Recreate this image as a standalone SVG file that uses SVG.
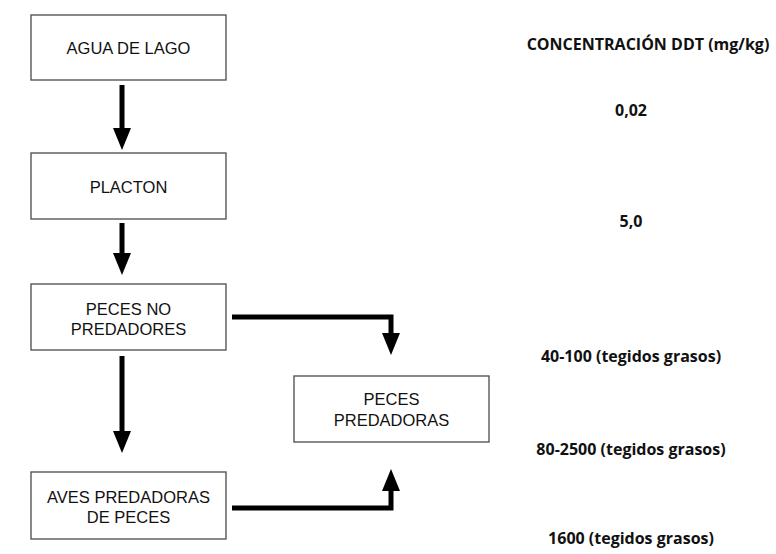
<svg xmlns="http://www.w3.org/2000/svg" width="776" height="554" viewBox="0 0 776 554">
  <style>
    .box { fill: #ffffff; stroke: #4a4a4a; stroke-width: 1.3; }
    .lbl { font-family: "Liberation Sans", Arial, sans-serif; font-size: 16.5px; fill: #111; text-anchor: middle; }
    .val { font-family: "Open Sans", "Liberation Sans", sans-serif; font-size: 16px; font-weight: bold; fill: #111; text-anchor: middle; }
    .conn { fill: none; stroke: #000; stroke-width: 5; stroke-linejoin: miter; stroke-linecap: butt; }
  </style>
  <defs>
    <marker id="ah" viewBox="0 0 22 18" refX="0" refY="9" markerWidth="22" markerHeight="18" markerUnits="userSpaceOnUse" orient="auto">
      <path d="M0,0 L22,9 L0,18 Z" fill="#000"/>
    </marker>
  </defs>
  <rect width="776" height="554" fill="#ffffff"/>

  <g id="node-agua">
    <rect class="box" x="31" y="15" width="195" height="65"/>
    <text class="lbl" x="128.5" y="54">AGUA DE LAGO</text>
  </g>
  <g id="node-placton">
    <rect class="box" x="31" y="153" width="195" height="66"/>
    <text class="lbl" x="128.5" y="193">PLACTON</text>
  </g>
  <g id="node-peces-no">
    <rect class="box" x="31" y="284" width="195" height="66"/>
    <text class="lbl" x="128.5" y="315">PECES NO</text>
    <text class="lbl" x="128.5" y="335">PREDADORES</text>
  </g>
  <g id="node-aves">
    <rect class="box" x="31" y="472" width="195" height="67"/>
    <text class="lbl" x="128.5" y="503">AVES PREDADORAS</text>
    <text class="lbl" x="128.5" y="523">DE PECES</text>
  </g>
  <g id="node-peces-pred">
    <rect class="box" x="294" y="376" width="195" height="66"/>
    <text class="lbl" x="391.5" y="405">PECES</text>
    <text class="lbl" x="391.5" y="426">PREDADORAS</text>
  </g>

  <g id="connectors">
    <path class="conn" d="M122,85 V128" marker-end="url(#ah)"/>
    <path class="conn" d="M122,223 V253" marker-end="url(#ah)"/>
    <path class="conn" d="M122,356 V431" marker-end="url(#ah)"/>
    <path class="conn" d="M232,317 H391 V333" marker-end="url(#ah)"/>
    <path class="conn" d="M232,508 H391 V491" marker-end="url(#ah)"/>
  </g>

  <g id="values">
    <text class="val" x="648" y="50">CONCENTRACIÓN DDT (mg/kg)</text>
    <text class="val" x="631" y="116">0,02</text>
    <text class="val" x="631" y="227">5,0</text>
    <text class="val" x="631" y="362">40-100 (tegidos grasos)</text>
    <text class="val" x="631" y="455">80-2500 (tegidos grasos)</text>
    <text class="val" x="631" y="544">1600 (tegidos grasos)</text>
  </g>
</svg>
